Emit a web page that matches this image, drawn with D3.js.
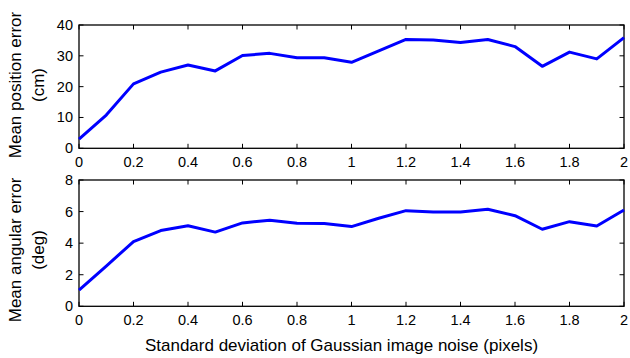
<!DOCTYPE html>
<html><head><meta charset="utf-8">
<script src="https://cdn.jsdelivr.net/npm/d3@7"></script>
<style>body{margin:0;background:#fff}svg{display:block}text{font-family:"Liberation Sans",Arial,sans-serif;fill:#000}</style>
</head><body>
<script>
const noise = [0,0.1,0.2,0.3,0.4,0.5,0.6,0.7,0.8,0.9,1.0,1.1,1.2,1.3,1.4,1.5,1.6,1.7,1.8,1.9,2.0];
const positionError = [3.0,10.8,20.9,24.7,27.0,25.1,30.1,30.8,29.4,29.4,27.9,31.6,35.3,35.1,34.3,35.3,33.0,26.6,31.2,29.0,35.9];
const angularError = [1.03,2.55,4.1,4.8,5.1,4.7,5.28,5.45,5.26,5.25,5.05,5.58,6.06,5.98,5.98,6.15,5.74,4.88,5.36,5.09,6.1];
const xTicks = [0,0.2,0.4,0.6,0.8,1,1.2,1.4,1.6,1.8,2];
const posTicks = [0,10,20,30,40];
const angTicks = [0,2,4,6,8];
const xLabel = "Standard deviation of Gaussian image noise (pixels)";
const posLabel = ["Mean position error","(cm)"];
const angLabel = ["Mean angular error","(deg)"];

const W=630,H=358;
const svg=d3.select("body").append("svg").attr("width",W).attr("height",H);
const x=d3.scaleLinear().domain([0,2]).range([79,624]);

function panel(top,bottom,domain,ticks,values,label,labelCy){
  const y=d3.scaleLinear().domain(domain).range([bottom,top]);
  const g=svg.append("g");
  const tl=4.5;
  xTicks.forEach(t=>{
    g.append("line").attr("x1",x(t)).attr("x2",x(t)).attr("y1",bottom).attr("y2",bottom-tl).attr("stroke","#000").attr("stroke-width",1);
    g.append("line").attr("x1",x(t)).attr("x2",x(t)).attr("y1",top).attr("y2",top+tl).attr("stroke","#000").attr("stroke-width",1);
    g.append("text").attr("x",x(t)).attr("y",bottom+19).attr("text-anchor","middle").attr("font-size",14.5).text(t);
  });
  ticks.forEach(t=>{
    g.append("line").attr("x1",x(0)).attr("x2",x(0)+tl).attr("y1",y(t)).attr("y2",y(t)).attr("stroke","#000").attr("stroke-width",1);
    g.append("line").attr("x1",x(2)).attr("x2",x(2)-tl).attr("y1",y(t)).attr("y2",y(t)).attr("stroke","#000").attr("stroke-width",1);
    g.append("text").attr("x",73).attr("y",y(t)+5).attr("text-anchor","end").attr("font-size",14.5).text(t);
  });
  g.append("rect").attr("x",x(0)).attr("y",top).attr("width",x(2)-x(0)).attr("height",bottom-top).attr("fill","none").attr("stroke","#000").attr("stroke-width",1.3);
  g.append("path").datum(values).attr("fill","none").attr("stroke","#0000ff").attr("stroke-width",3).attr("stroke-linejoin","round")
    .attr("d",d3.line().x((d,i)=>x(noise[i])).y(d=>y(d)));
  g.append("text").attr("transform",`translate(21,${labelCy}) rotate(-90)`).attr("text-anchor","middle").attr("font-size",17).text(label[0]);
  g.append("text").attr("transform",`translate(44,${labelCy}) rotate(-90)`).attr("text-anchor","middle").attr("font-size",17).text(label[1]);
}
panel(25,148.3,[0,40],posTicks,positionError,posLabel,85);
panel(180,306.3,[0,8],angTicks,angularError,angLabel,250);
svg.append("text").attr("x",(x(0)+x(2))/2-10).attr("y",351).attr("text-anchor","middle").attr("font-size",17).text(xLabel);
</script>
</body></html>
